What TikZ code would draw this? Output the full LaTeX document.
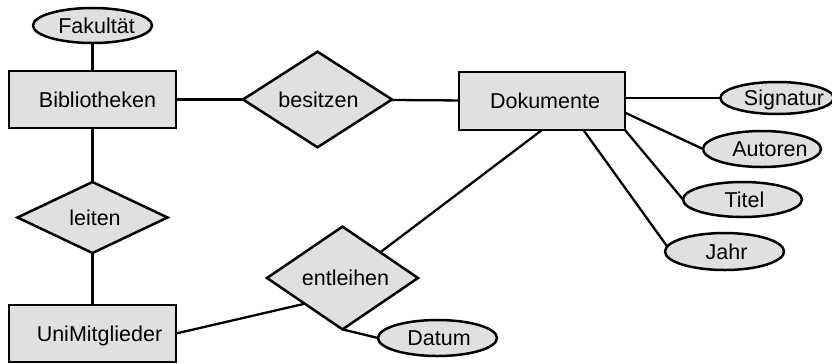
\documentclass[tikz,border=0pt]{standalone}
\usepackage{fontspec}
\setmainfont{Liberation Sans}
\usetikzlibrary{shapes.geometric}
\newcommand\sh[2]{\hspace*{#1bp}#2\hspace*{-#1bp}}
\tikzset{
  base/.style={draw=black, fill=boxgray, line width=2.5bp, inner sep=0pt, outer sep=0pt,
    font=\fontsize{21.5bp}{26bp}\selectfont, text height=15.5bp, text depth=0pt},
  entity/.style={base, rectangle, minimum width=167bp, minimum height=57bp},
  relation/.style={base, diamond, minimum width=150bp, minimum height=71bp},
  attrib/.style={base, ellipse, minimum width=119bp, minimum height=35bp},
  conn/.style={line width=2.3bp, draw=black}
}
\definecolor{boxgray}{HTML}{E0E0E0}
\begin{document}
\begin{tikzpicture}[x=1bp, y=-1bp]
\useasboundingbox (0,0) rectangle (832,363);
\node[attrib] (fak) at (92.5,25.5) {\sh{4}{Fakultät}};
\node[entity] (bib) at (92.5,99.5) {\sh{5}{Bibliotheken}};
\node[relation, minimum width=149bp, minimum height=73bp] (bes) at (317.5,99.5) {\sh{1}{besitzen}};
\node[entity, minimum width=166bp, minimum height=58bp] (doc) at (542,101) {\sh{3}{Dokumente}};
\node[attrib, minimum width=110bp, minimum height=32bp] (sig) at (777,98) {\sh{7}{Signatur}};
\node[attrib, minimum width=118bp, minimum height=36bp] (aut) at (762,149) {\sh{8}{Autoren}};
\node[attrib] (tit) at (742.5,199.5) {\sh{2}{Titel}};
\node[attrib, minimum height=37bp] (jahr) at (724.5,251.5) {\sh{2}{Jahr}};
\node[relation] (lei) at (92.5,217.5) {\sh{2.5}{leiten}};
\node[relation, minimum width=151bp, minimum height=70bp] (ent) at (342.5,278) {\sh{3}{entleihen}};
\node[entity] (uni) at (92.5,333.5) {\sh{7}{UniMitglieder}};
\node[attrib, minimum height=36bp] (dat) at (437.5,338) {\sh{1.5}{Datum}};

\draw[conn] (fak) -- (bib);
\draw[conn] (bib) -- (bes);
\draw[conn] (bes) -- (doc);
\draw[conn] (bib) -- (lei);
\draw[conn] (lei) -- (uni);
\draw[conn] (doc.east |- sig.west) -- (sig.west);
\draw[conn] (doc.-8) -- (aut.west);
\draw[conn] (doc.south east) -- (tit.west);
\draw[conn] (doc.-35) -- (jahr.175);
\draw[conn] (doc.south) -- (ent.north east);
\draw[conn] (uni.east) -- (ent.south west);
\draw[conn] (ent.south) -- (dat.west);
\end{tikzpicture}
\end{document}
